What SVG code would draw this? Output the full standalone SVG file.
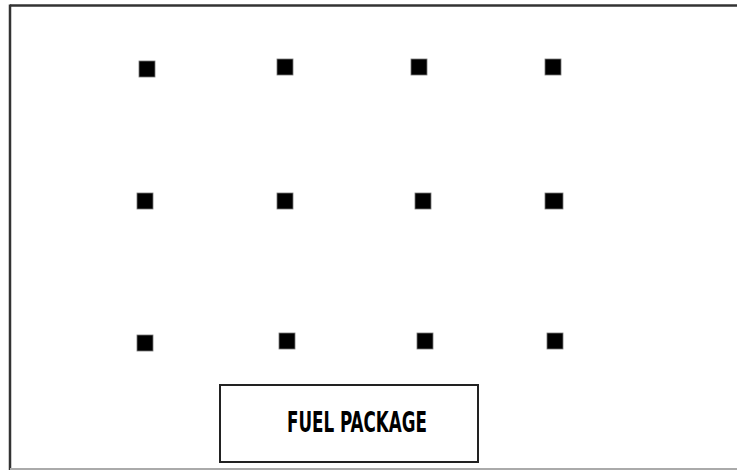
<svg xmlns="http://www.w3.org/2000/svg" width="737" height="470" viewBox="0 0 737 470">
<style>
.sq{fill:#000;stroke:#777;stroke-width:0.8}
.frame{stroke:#333;stroke-width:2.5;fill:none}
.box{fill:#fff;stroke:#222;stroke-width:2}
.lbl{font-family:"DejaVu Sans Condensed","DejaVu Sans",sans-serif;font-weight:bold;font-size:28px;fill:#000}
</style>
<rect width="737" height="470" fill="#fff"/>
<g id="frame">
<line class="frame" x1="10" y1="5.5" x2="737" y2="5.5"/>
<line class="frame" x1="10" y1="4.5" x2="10" y2="470"/>
<line x1="10" y1="469" x2="737" y2="469" stroke="#aaa" stroke-width="2"/>
</g>
<g id="squares">
<rect class="sq" x="139" y="61" width="16" height="16"/>
<rect class="sq" x="277" y="59" width="16" height="16"/>
<rect class="sq" x="411" y="59" width="16" height="16"/>
<rect class="sq" x="545" y="59" width="16" height="16"/>
<rect class="sq" x="137" y="193" width="16" height="16"/>
<rect class="sq" x="277" y="193" width="16" height="16"/>
<rect class="sq" x="415" y="193" width="16" height="16"/>
<rect class="sq" x="545" y="193" width="18" height="16"/>
<rect class="sq" x="137" y="335" width="16" height="16"/>
<rect class="sq" x="279" y="333" width="16" height="16"/>
<rect class="sq" x="417" y="333" width="16" height="16"/>
<rect class="sq" x="547" y="333" width="16" height="16"/>
</g>
<g id="fuel-package">
<rect class="box" x="220" y="385" width="258" height="77"/>
<text class="lbl" x="287" y="432" textLength="140" lengthAdjust="spacingAndGlyphs">FUEL PACKAGE</text>
</g>
</svg>
